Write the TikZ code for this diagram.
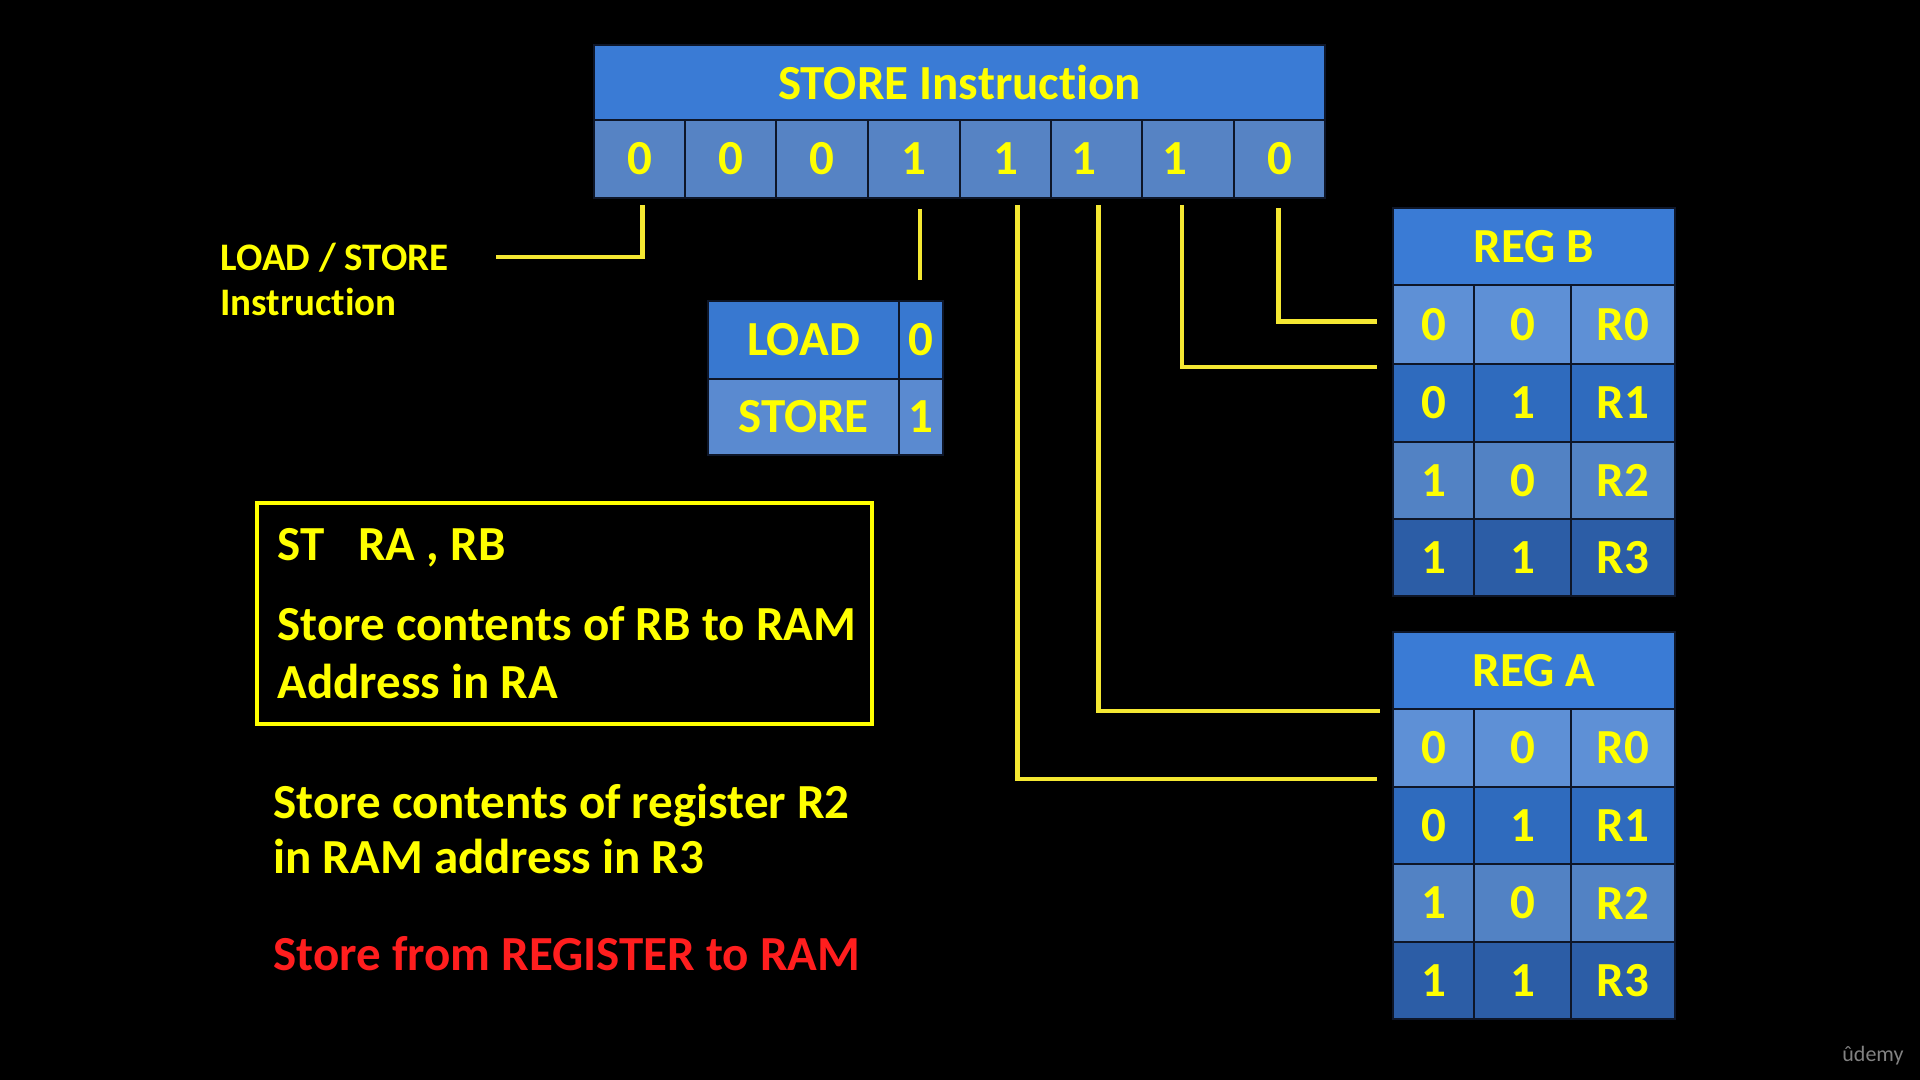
\documentclass[tikz,border=0pt]{standalone}
\usepackage{fontspec}
\setmainfont{Carlito}[Ligatures={NoCommon}]
\usetikzlibrary{calc}

\definecolor{hdrblue}{RGB}{58,123,213}
\definecolor{bitblue}{RGB}{86,131,196}
\definecolor{rowA}{RGB}{94,144,214}
\definecolor{rowB}{RGB}{47,107,190}
\definecolor{rowC}{RGB}{82,130,196}
\definecolor{rowD}{RGB}{44,93,166}
\definecolor{loadblue}{RGB}{56,120,208}
\definecolor{storeblue}{RGB}{90,138,208}
\definecolor{gridline}{RGB}{14,22,40}
\definecolor{txtyellow}{RGB}{255,255,0}
\definecolor{wireyellow}{RGB}{245,232,50}
\definecolor{txtred}{RGB}{255,30,30}
\definecolor{markgray}{RGB}{130,130,130}

\newcommand\bigtxt{\fontsize{24.5}{29}\selectfont\bfseries}
\newcommand\smalltxt{\fontsize{19.5}{22.5}\selectfont\bfseries}

\tikzset{
  cellbox/.style={draw=gridline, line width=1pt, inner sep=0pt, text=txtyellow, font=\bigtxt},
  wire/.style={draw=wireyellow, line width=2.3pt},
  note/.style={inner sep=0pt, anchor=base west, text=txtyellow, font=\bigtxt},
}

% one table cell: name, x1, y1, x2, y2, fill, text
\newcommand\cellat[7]{%
  \node[cellbox, fill=#6, minimum width={(#4-#2)*0.5pt}, minimum height={(#5-#3)*0.5pt}]
    (#1) at ({(#2+#4)/2},{(#3+#5)/2}) {#7};}

% one register row: prefix, y1, y2, fill, bit1, bit2, register name
\newcommand\regrow[7]{%
  \cellat{#1a}{1393}{#2}{1474}{#3}{#4}{#5}%
  \cellat{#1b}{1474}{#2}{1571}{#3}{#4}{#6}%
  \cellat{#1c}{1571}{#2}{1675}{#3}{#4}{#7}}

\begin{document}
\begin{tikzpicture}[x=0.5pt,y=-0.5pt]
  \useasboundingbox (0,0) rectangle (1920,1080);
  \fill[black] (0,0) rectangle (1920,1080);

  % instruction word
  \cellat{title}{594}{45}{1325}{120}{hdrblue}{STORE Instruction}
  \cellat{b1}{594}{120}{685}{198}{bitblue}{0}
  \cellat{b2}{685}{120}{776}{198}{bitblue}{0}
  \cellat{b3}{776}{120}{868}{198}{bitblue}{0}
  \cellat{b4}{868}{120}{960}{198}{bitblue}{1}
  \cellat{b5}{960}{120}{1051}{198}{bitblue}{1}
  \cellat{b6}{1051}{120}{1142}{198}{bitblue}{\hspace*{-13pt}1}
  \cellat{b7}{1142}{120}{1234}{198}{bitblue}{\hspace*{-13pt}1}
  \cellat{b8}{1234}{120}{1325}{198}{bitblue}{0}

  % opcode table
  \cellat{ld}{708}{301}{899}{379}{loadblue}{LOAD}
  \cellat{ldv}{899}{301}{943}{379}{loadblue}{0}
  \cellat{st}{708}{379}{899}{455}{storeblue}{STORE}
  \cellat{stv}{899}{379}{943}{455}{storeblue}{1}

  % register B
  \cellat{rbT}{1393}{208}{1675}{285}{hdrblue}{REG B}
  \regrow{rb0}{285}{364}{rowA}{0}{0}{R0}
  \regrow{rb1}{364}{442}{rowB}{0}{1}{R1}
  \regrow{rb2}{442}{519}{rowC}{1}{0}{R2}
  \regrow{rb3}{519}{596}{rowD}{1}{1}{R3}

  % register A
  \cellat{raT}{1393}{632}{1675}{709}{hdrblue}{REG A}
  \regrow{ra0}{709}{787}{rowA}{0}{0}{R0}
  \regrow{ra1}{787}{864}{rowB}{0}{1}{R1}
  \regrow{ra2}{864}{942}{rowC}{1}{0}{R2}
  \regrow{ra3}{942}{1019}{rowD}{1}{1}{R3}

  % field labels
  \node[note, font=\smalltxt] (lsl1) at (220,271) {LOAD / STORE};
  \node[note, font=\smalltxt] (lsl2) at (220,316) {Instruction};

  % wires from the instruction bits
  \coordinate (lsEnd) at (496,257);
  \coordinate (opEnd) at ($(b4.south)+(6,81)$);
  \draw[wire] ($(b1.south)+(3,6)$) |- (lsEnd);
  \draw[wire] ($(b4.south)+(6,10)$) -- (opEnd);
  \draw[wire] ($(b5.south)+(12,6)$) |- ($(ra0a.south west)+(-15,-9)$);
  \draw[wire] ($(b6.south)+(2,6)$) |- ($(raT.south west)+(-12,1)$);
  \draw[wire] ($(b7.south)+(-6,6)$) |- ($(rb0a.south west)+(-15,2)$);
  \draw[wire] ($(b8.south)+(-1,9)$) |- ($(rb0a.west)+(-15,-3)$);

  % mnemonic box
  \node[draw=txtyellow, line width=2pt, minimum width=307.5pt, minimum height=110.5pt,
        inner sep=0pt] (stbox) at (564.5,613.5) {};
  \node[note] (st1) at (277,560) {ST\hspace{17pt}RA , RB};
  \node[note] (st2) at (277,640) {Store contents of RB to RAM};
  \node[note] (st3) at (277,698) {Address in RA};

  % example
  \node[note] (ex1) at (273,818) {Store contents of register R2};
  \node[note] (ex2) at (273,873) {in RAM address in R3};
  \node[note, text=txtred] (ex3) at (273,970) {Store from REGISTER to RAM};

  \node[text=markgray, font=\fontsize{11}{13}\selectfont, inner sep=0pt] (mark) at (1873,1056) {ûdemy};
\end{tikzpicture}
\end{document}
